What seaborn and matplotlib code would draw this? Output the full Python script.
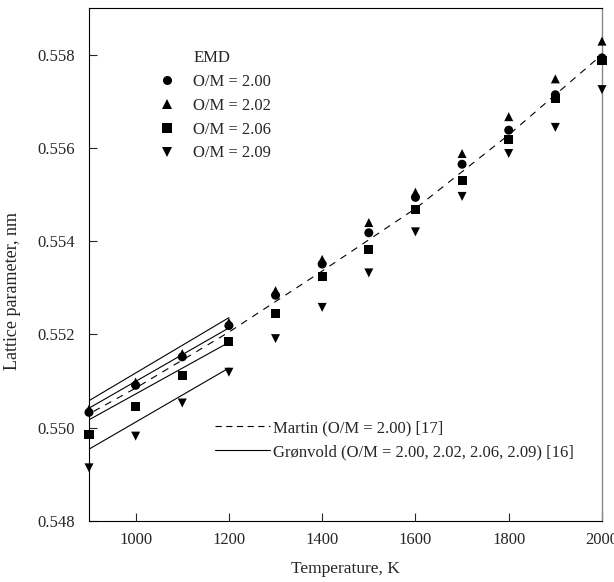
import numpy as np
import pandas as pd
import seaborn as sns
import matplotlib.pyplot as plt
from matplotlib.lines import Line2D

sns.set_style("ticks")
plt.rcParams.update({
    'font.family': ['Liberation Serif', 'DejaVu Serif'],
    'font.size': 12,
    'lines.scale_dashes': False,
    'mathtext.fontset': 'stix',
})

# EMD lattice parameter (nm) vs temperature (K)
temps = [900, 1000, 1100, 1200, 1300, 1400, 1500, 1600, 1700, 1800, 1900, 2000]
om_200 = [0.55033, 0.55091, 0.55152, 0.55219, 0.55284, 0.55351, 0.55418, 0.55494, 0.55565, 0.55638, 0.55714, 0.55793]
om_202 = [0.55040, 0.55098, 0.55159, 0.55226, 0.55294, 0.55361, 0.55440, 0.55505, 0.55588, 0.55667, 0.55748, 0.55829]
om_206 = [0.54986, 0.55045, 0.55111, 0.55184, 0.55245, 0.55325, 0.55382, 0.55469, 0.55530, 0.55619, 0.55705, 0.55788]
om_209 = [0.54914, 0.54982, 0.55053, 0.55119, 0.55191, 0.55258, 0.55332, 0.55420, 0.55496, 0.55588, 0.55644, 0.55725]
series_labels = ["O/M = 2.00", "O/M = 2.02", "O/M = 2.06", "O/M = 2.09"]

# Martin (O/M = 2.00) [17]
martin_t = [910, 1000, 1200, 1400, 1600, 1800, 2000]
martin_a = [0.55035, 0.55085, 0.55205, 0.55336, 0.55470, 0.55628, 0.55800]

# Grønvold lines, 900-1200 K
gron_t = [900, 1200]
gron_200 = [0.55058, 0.55236]
gron_202 = [0.55042, 0.55214]
gron_206 = [0.55017, 0.55183]
gron_209 = [0.54954, 0.55128]

rows = []
for lab, vals in zip(series_labels, [om_200, om_202, om_206, om_209]):
    for t, v in zip(temps, vals):
        rows.append({'T': t, 'a': v, 'series': lab})
df = pd.DataFrame(rows)

gron_rows = []
for lab, vals in zip(series_labels, [gron_200, gron_202, gron_206, gron_209]):
    for t, v in zip(gron_t, vals):
        gron_rows.append({'T': t, 'a': v, 'series': lab})
df_gron = pd.DataFrame(gron_rows)
df_martin = pd.DataFrame({'T': martin_t, 'a': martin_a})

fig, ax = plt.subplots(figsize=(6.14, 5.82), dpi=100)
fig.subplots_adjust(left=89/614, right=602/614, bottom=1-521/582, top=1-8/582)

markers = dict(zip(series_labels, ['o', '^', 's', 'v']))

sns.lineplot(data=df_gron, x='T', y='a', units='series', estimator=None,
             color='black', lw=0.8, ax=ax, legend=False)
sns.lineplot(data=df_martin, x='T', y='a', color='black', lw=0.8,
             dashes=False, ax=ax, legend=False, linestyle=(0, (5, 4.5)))
sns.scatterplot(data=df, x='T', y='a', style='series', markers=markers,
                color='black', s=42, linewidth=0, ax=ax, legend=False,
                clip_on=False, zorder=5)

ax.set_xlim(900, 2000)
ax.set_ylim(0.548, 0.559)
ax.set_xticks([1000, 1200, 1400, 1600, 1800, 2000])
ax.set_yticks([0.548, 0.550, 0.552, 0.554, 0.556, 0.558])
ax.yaxis.set_major_formatter(plt.FormatStrFormatter('%.3f'))
ax.tick_params(direction='in', length=6, width=0.8, labelsize=12)
ax.tick_params(axis='y', pad=10)
ax.tick_params(axis='x', pad=8)
ax.set_xlabel('Temperature, K', fontsize=12.5, labelpad=9)
ax.set_ylabel('Lattice parameter, nm', fontsize=13)
ax.yaxis.set_label_coords(-0.133, 0.448)

for side in ['left', 'bottom', 'top']:
    ax.spines[side].set_color('black')
    ax.spines[side].set_linewidth(0.8)
ax.spines['right'].set_color('#888888')
ax.spines['right'].set_linewidth(1.0)

# EMD legend
h = [Line2D([], [], linestyle='none')]
h += [Line2D([], [], linestyle='none', marker=markers[l], color='black',
             markersize=6.5, markeredgewidth=0) for l in series_labels]
leg1 = ax.legend(h, ['EMD'] + series_labels, loc='upper left',
                 bbox_to_anchor=(0.135, 0.918), frameon=False,
                 handlelength=1.0, handletextpad=1.1, labelspacing=0.47,
                 borderpad=0, borderaxespad=0)
ax.add_artist(leg1)

# Reference lines legend
h2 = [Line2D([], [], color='black', lw=0.8, linestyle=(0, (4.5, 3.2))),
      Line2D([], [], color='black', lw=0.8)]
ax.legend(h2, ['Martin (O/M = 2.00) [17]',
               'Grønvold (O/M = 2.00, 2.02, 2.06, 2.09) [16]'],
          loc='upper left', bbox_to_anchor=(0.245, 0.197), frameon=False,
          handlelength=3.3, handletextpad=0.2, labelspacing=0.5,
          borderpad=0, borderaxespad=0)

plt.savefig('out.png', dpi=100)
